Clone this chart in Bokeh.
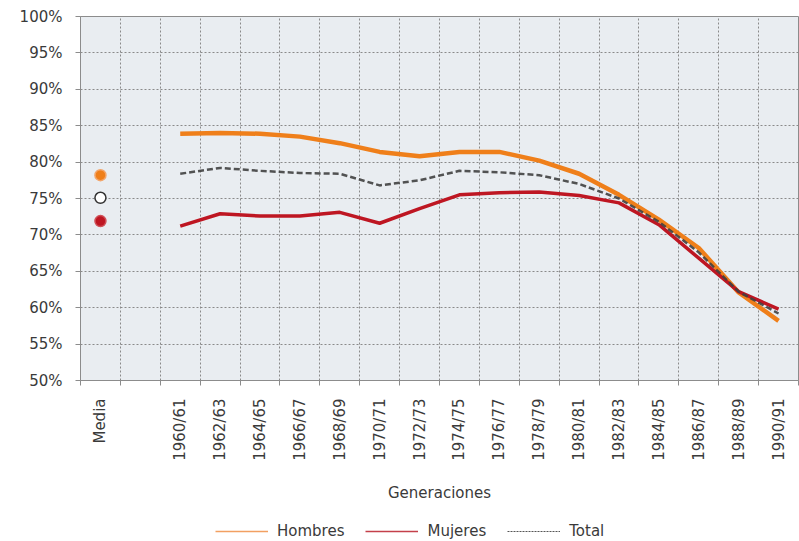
import math
from bokeh.plotting import figure
from bokeh.layouts import column
from bokeh.models import (Range1d, FixedTicker, PrintfTickFormatter, Legend, LegendItem)
from bokeh.embed import file_html
from bokeh.resources import INLINE

# ---- data ----
categories = ["Media", "", "1960/61", "1962/63", "1964/65", "1966/67", "1968/69", "1970/71",
              "1972/73", "1974/75", "1976/77", "1978/79", "1980/81", "1982/83", "1984/85",
              "1986/87", "1988/89", "1990/91"]
generations = categories[2:]
hombres = [83.9, 84.0, 83.9, 83.5, 82.6, 81.4, 80.8, 81.4, 81.4, 80.2, 78.4, 75.5, 72.1, 68.2, 62.1, 58.2]
mujeres = [71.2, 72.9, 72.6, 72.6, 73.1, 71.6, 73.6, 75.5, 75.8, 75.9, 75.4, 74.4, 71.4, 66.8, 62.2, 59.8]
total = [78.4, 79.2, 78.8, 78.5, 78.4, 76.8, 77.5, 78.8, 78.6, 78.2, 77.0, 75.0, 71.8, 67.6, 62.2, 59.2]
media_series = ["Hombres", "Total", "Mujeres"]
media_values = [78.2, 75.1, 71.9]
y_ticks = [50, 55, 60, 65, 70, 75, 80, 85, 90, 95, 100]
legend_labels = ["Hombres", "Mujeres", "Total"]

C_H = "#EF7F1A"
C_M = "#BE1622"
C_T = "#404040"
FONT = "DejaVu Sans"
TXT = "#3a3a3a"
GRID = "#8a8a8a"
AXC = "#8c8c8c"
NAN = float("nan")

def xpos(cat):
    return categories.index(cat) + 0.5

xs = [xpos(g) for g in generations]

p = figure(width=799, height=521, output_backend="svg", toolbar_location=None,
           x_range=Range1d(0, len(categories)), y_range=Range1d(50, 100),
           min_border_left=80, min_border_top=16, min_border_right=1, min_border_bottom=141)
p.background_fill_color = "#E9EDF1"
p.border_fill_color = "white"
p.outline_line_color = AXC

centres = [i + 0.5 for i, c in enumerate(categories) if c]
bounds = list(range(0, len(categories) + 1))
p.xaxis.ticker = FixedTicker(ticks=centres, minor_ticks=bounds)
p.xaxis.major_label_overrides = {i + 0.5: c for i, c in enumerate(categories) if c}
p.xaxis.major_label_orientation = math.pi / 2
p.xaxis.major_tick_out = 0
p.xaxis.major_tick_in = 0
p.xaxis.minor_tick_out = 5
p.xaxis.minor_tick_in = 0
p.xaxis.minor_tick_line_color = AXC
p.xaxis.axis_line_color = AXC
p.xaxis.major_label_standoff = 13
p.xaxis.major_label_text_font = FONT
p.xaxis.major_label_text_font_size = "15px"
p.xaxis.major_label_text_color = TXT
p.xaxis.axis_label = "Generaciones"
p.xaxis.axis_label_standoff = 20
p.xaxis.axis_label_text_font = FONT
p.xaxis.axis_label_text_font_size = "15px"
p.xaxis.axis_label_text_font_style = "normal"
p.xaxis.axis_label_text_color = TXT

p.yaxis.ticker = FixedTicker(ticks=y_ticks)
p.yaxis.formatter = PrintfTickFormatter(format="%d%%")
p.yaxis.major_tick_out = 5
p.yaxis.major_tick_in = 0
p.yaxis.major_tick_line_color = AXC
p.yaxis.axis_line_color = AXC
p.yaxis.major_label_standoff = 13
p.yaxis.major_label_text_font = FONT
p.yaxis.major_label_text_font_size = "15px"
p.yaxis.major_label_text_color = TXT

p.xgrid.grid_line_color = None
p.xgrid.minor_grid_line_color = GRID
p.xgrid.minor_grid_line_dash = "2 2"
p.xgrid.minor_grid_line_width = 1
p.ygrid.grid_line_color = GRID
p.ygrid.grid_line_dash = "2 2"
p.ygrid.grid_line_width = 1

p.line(xs, hombres, line_color=C_H, line_width=4.5)
p.line(xs, mujeres, line_color=C_M, line_width=3.5)
p.line(xs, total, line_color=C_T, line_width=2.5, line_dash="6 3", line_alpha=0.9)

mx = [xpos("Media")] * len(media_values)
p.scatter(mx, media_values, size=11,
          fill_color=[C_H, "white", C_M], line_color=["#f3a56a", "#333333", "#d05058"], line_width=1.5)

# legend strip below the chart (placeholder renderers hold no visible data)
lf = figure(width=799, height=20, output_backend="svg", toolbar_location=None,
            x_range=Range1d(0, 1), y_range=Range1d(0, 1),
            x_axis_location=None, y_axis_location=None,
            min_border_left=80, min_border_right=1, min_border_top=0, min_border_bottom=0)
lf.outline_line_color = None
lf.grid.visible = False
lf.background_fill_color = "white"
lh = lf.line([NAN], [NAN], line_color="#F2A062", line_width=1.6)
lm = lf.line([NAN], [NAN], line_color="#C4404A", line_width=1.6)
lt = lf.line([NAN], [NAN], line_color="#555555", line_width=1, line_dash="2 1")

legend = Legend(items=[LegendItem(label=legend_labels[0], renderers=[lh]),
                       LegendItem(label=legend_labels[1], renderers=[lm]),
                       LegendItem(label=legend_labels[2], renderers=[lt])],
                orientation="horizontal", location=(135, 0), border_line_color=None,
                background_fill_alpha=0, label_text_font=FONT, label_text_font_size="15px",
                label_text_color=TXT, glyph_width=53, label_standoff=9, spacing=21,
                padding=0, margin=0, label_height=20, glyph_height=20)
lf.add_layout(legend, "center")

layout = column(p, lf, spacing=0)
open("out.html", "w").write(file_html(layout, INLINE))
